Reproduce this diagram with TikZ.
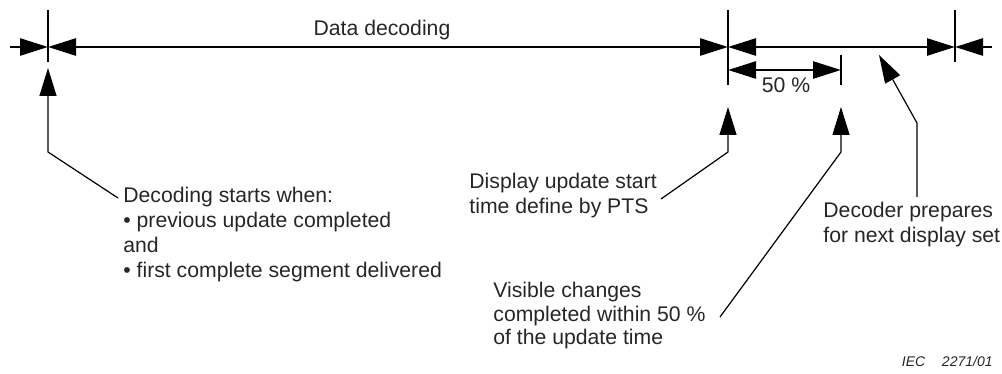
\documentclass[tikz,border=0pt]{standalone}
\usepackage{fontspec}
\setmainfont{Liberation Sans}
\usetikzlibrary{arrows.meta}
\definecolor{ink}{HTML}{262626}
\tikzset{
  >={Triangle[length=14pt,width=8.5pt]},
  timeline/.style={line width=1.3pt, draw=black},
  tickline/.style={line width=0.6pt, draw=black},
  leader/.style={line width=0.6pt, draw=black, ->},
  note/.style={inner sep=0pt, align=left, text=ink,
    font=\fontsize{10.6}{12.5}\selectfont},
}

\begin{document}
\begin{tikzpicture}[x=0.5pt,y=-0.5pt]
  \useasboundingbox (0,0) rectangle (1002,374);
  % marks on the time line
  \coordinate (in) at (10,47);
  \coordinate (m0) at (48,47);
  \coordinate (m1) at (728,47);
  \coordinate (m2) at (955,47);
  \coordinate (out) at (992,47);
  \coordinate (h0) at (728,70);
  \coordinate (h1) at (841,70);
  \draw[tickline] (m0) ++(0,-37) -- ++(0,52);
  \draw[tickline] (m1) ++(0,-37) -- ++(0,75);
  \draw[tickline] (m2) ++(0,-37) -- ++(0,52);
  \draw[tickline] (h1) ++(0,-15) -- ++(0,30);

  \draw[timeline, ->] (in) -- (m0);
  \draw[timeline, <->] (m0) -- (m1);
  \draw[timeline, <->] (m1) -- (m2);
  \draw[timeline, ->] (out) -- (m2);
  \draw[timeline, <->] (h0) -- (h1);

  \node[note, anchor=base] (decoding) at (382,36) {Data decoding};
  \node[note, anchor=base] (half) at (786,93) {50 \%};

  % notes
  \node[note, anchor=north west] (start) at (123,187)
    {Decoding starts when:\\
     \textbullet\ previous update completed\\
     and\\
     \textbullet\ first complete segment delivered};
  \node[note, anchor=north west] (pts) at (469,173)
    {Display update start\\time define by PTS};
  \node[note, anchor=north west, font=\fontsize{10.6}{11.8}\selectfont] (visible) at (493,282)
    {Visible changes\\completed within 50 \%\\of the update time};
  \node[note, anchor=north west] (prep) at (823,202)
    {Decoder prepares\\for next display set};
  \node[note, anchor=base east, font=\fontsize{7}{8}\selectfont\itshape] (iec) at (993,366)
    {IEC\hspace{1.2em}2271/01};

  % leaders
  \coordinate (a0) at (118,198);
  \coordinate (a1) at (48,152);
  \coordinate (a2) at (48,68);
  \draw[leader] (a0) -- (a1) -- (a2);
  \coordinate (b0) at (661,199);
  \coordinate (b1) at (728,152);
  \coordinate (b2) at (728,107);
  \draw[leader] (b0) -- (b1) -- (b2);
  \coordinate (c0) at (720,317);
  \coordinate (c1) at (841,152);
  \coordinate (c2) at (841,107);
  \draw[leader] (c0) -- (c1) -- (c2);
  \coordinate (d0) at (917,197);
  \coordinate (d1) at (917,123);
  \coordinate (d2) at (879,55);
  \draw[leader] (d0) -- (d1) -- (d2);
\end{tikzpicture}
\end{document}
